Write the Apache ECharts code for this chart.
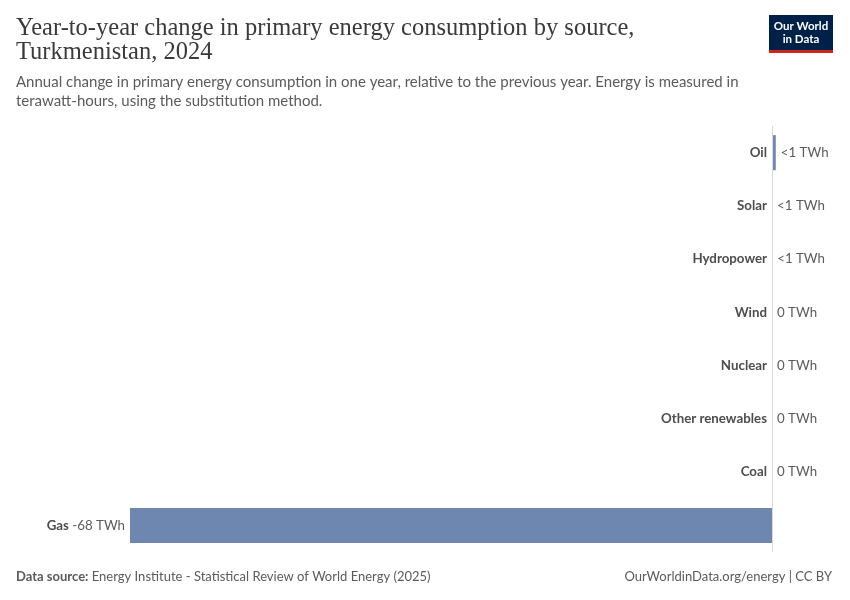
<!DOCTYPE html>
<html>
<head>
<meta charset="utf-8">
<script src="https://cdn.jsdelivr.net/npm/echarts@6/dist/echarts.min.js"></script>
<style>
html,body{margin:0;padding:0;background:#fff;}
#main{width:850px;height:600px;}
</style>
</head>
<body>
<div id="main"></div>
<script>
const categories = ['Oil','Solar','Hydropower','Wind','Nuclear','Other renewables','Coal','Gas'];
const values = [0.4, 0.01, 0.02, 0, 0, 0, 0, -68];

function fmt(v){
  if (v !== 0 && Math.abs(v) < 1) return '<1 TWh';
  return Math.round(v) + ' TWh';
}

const chart = echarts.init(document.getElementById('main'));
const fontFam = 'Lato, "Noto Sans", sans-serif';
const gridLeft = 130, gridRight = 78, W = 850;
const plotW = W - gridLeft - gridRight;

const seriesData = values.map((v,i)=>{
  const d = {value:v};
  if (v < 0) {
    d.label = {
      show:true, position:'left', distance:5,
      formatter: '{n|' + categories[i] + '} {v|' + fmt(v) + '}',
      rich:{
        n:{fontFamily:fontFam,fontSize:13.3,fontWeight:'bold',color:'#4d4d4d'},
        v:{fontFamily:fontFam,fontSize:13.3,color:'#5b5b5b'}
      }
    };
  }
  return d;
});

chart.setOption({
  backgroundColor:'#fff',
  animation:false,
  title:[
    {text:'Year-to-year change in primary energy consumption by source,\nTurkmenistan, 2024',
     left:16, top:17, padding:0,
     textStyle:{fontFamily:'"Liberation Serif", "DejaVu Serif", serif', fontSize:24.5, fontWeight:'normal', color:'#3a3a3a', lineHeight:24}},
    {text:'Annual change in primary energy consumption in one year, relative to the previous year. Energy is measured in\nterawatt-hours, using the substitution method.',
     left:16, top:73, padding:0,
     textStyle:{fontFamily:fontFam, fontSize:15, fontWeight:'normal', color:'#5b5b5b', lineHeight:19}},
    {text:'{b|Data source:} Energy Institute - Statistical Review of World Energy (2025)',
     left:16, top:570, padding:0,
     textStyle:{fontFamily:fontFam, fontSize:13, fontWeight:'normal', color:'#5b5b5b',
       rich:{b:{fontFamily:fontFam,fontSize:13,fontWeight:'bold',color:'#5b5b5b'}}}},
    {text:'OurWorldinData.org/energy | CC BY',
     right:18, top:570, padding:0,
     textStyle:{fontFamily:fontFam, fontSize:13, fontWeight:'normal', color:'#5b5b5b'}}
  ],
  graphic:[
    {type:'rect', shape:{x:769,y:15,width:64,height:35}, style:{fill:'#002147'}},
    {type:'rect', shape:{x:769,y:50,width:64,height:3}, style:{fill:'#ce261e'}},
    {type:'text', style:{x:801,y:32.5,text:'Our World\nin Data',fill:'#fff',font:'bold 11.5px Lato, sans-serif',align:'center',verticalAlign:'middle',lineHeight:13}}
  ],
  grid:{left:gridLeft, right:gridRight, top:126, bottom:48},
  xAxis:{
    type:'value', min:-68, max:0,
    axisLine:{show:false}, axisTick:{show:false}, axisLabel:{show:false}, splitLine:{show:false}
  },
  yAxis:{
    type:'category', data:categories, inverse:true,
    axisLine:{show:false},
    axisTick:{show:false},
    axisLabel:{
      margin:-(plotW - 5),
      formatter:(v,i)=> values[i] < 0 ? '' : v,
      fontFamily:fontFam, fontSize:13.3, fontWeight:'bold', color:'#4d4d4d'
    }
  },
  series:[{
    type:'bar', data:seriesData, barWidth:35, clip:false,
    itemStyle:{color:'#6d87b0'},
    label:{
      show:true, position:'right', distance:5,
      formatter:p=>fmt(p.value),
      fontFamily:fontFam, fontSize:13.3, color:'#5b5b5b'
    },
    markLine:{
      silent:true, symbol:'none', label:{show:false},
      lineStyle:{color:'#d9d9d9', width:1, type:'solid'},
      data:[{xAxis:0}]
    }
  }]
});
</script>
</body>
</html>
